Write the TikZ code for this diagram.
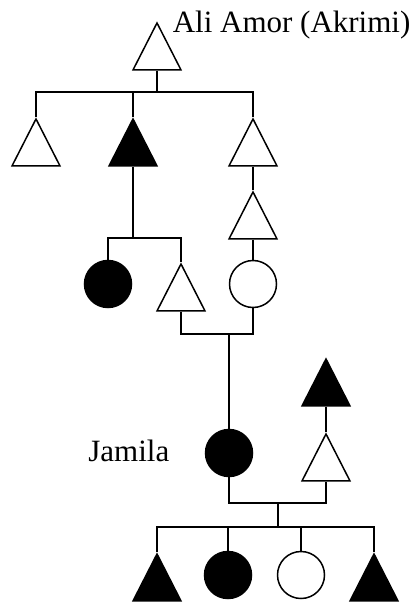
\documentclass[tikz,border=0pt]{standalone}
\usepackage{fontspec}
\setmainfont{Liberation Serif}
\usetikzlibrary{shapes.geometric}
\tikzset{
  man/.style={draw,isosceles triangle,shape border rotate=90,isosceles triangle stretches,
    minimum width=48bp,minimum height=47bp,inner sep=0pt,anchor=apex},
  woman/.style={draw,circle,minimum size=47bp,inner sep=0pt},
  ill/.style={fill=black},
  persname/.style={font=\fontsize{31bp}{37bp}\selectfont,inner sep=0pt,anchor=base west}
}
\begin{document}
\begin{tikzpicture}[x=1bp,y=-1bp,line width=1.5bp]
  \useasboundingbox (0,0) rectangle (417,602);
  % first generation
  \node[man] (ali) at (157,21) {};
  \node[persname] (aliname) at (172,33) {Ali Amor (Akrimi)};
  \coordinate (j1) at (157,92);
  \node[man] (s1) at (36,117) {};
  \node[man,ill] (s2) at (133,117) {};
  \node[man] (s3) at (253,117) {};
  \draw (ali.lower side) -- (j1);
  \draw (s1.apex) -- (s1.apex |- j1) -- (s3.apex |- j1) -- (s3.apex);
  \draw (s2.apex) -- (s2.apex |- j1);
  % second line
  \node[man] (s4) at (253,190) {};
  \node[woman] (c1) at (253,284) {};
  \draw (s3.lower side) -- (s4.apex);
  \draw (s4.lower side) -- (c1);
  \coordinate (j2) at (133,238);
  \node[woman,ill] (d1) at (108,284) {};
  \node[man] (d2) at (181,262) {};
  \draw (s2.lower side) -- (j2);
  \draw (d1) -- (d1 |- j2) -- (d2.apex |- j2) -- (d2.apex);
  % marriage
  \coordinate (m1) at (229,334);
  \node[woman,ill] (jam) at (229,453) {};
  \node[persname,anchor=base east] (jamname) at (170,461) {Jamila};
  \draw (d2.lower side) -- (d2.lower side |- m1) -- (c1.south |- m1) -- (c1);
  \draw (m1) -- (jam);
  % husband side
  \node[man,ill] (f1) at (326,357) {};
  \node[man] (f2) at (326,432) {};
  \draw (f1.lower side) -- (f2.apex);
  \coordinate (m2) at (278,503);
  \coordinate (j3) at (278,527);
  \draw (jam) -- (jam |- m2) -- (f2.lower side |- m2) -- (f2.lower side);
  \draw (m2) -- (j3);
  % children
  \node[man,ill] (k1) at (157,552) {};
  \node[woman,ill] (k2) at (228,575) {};
  \node[woman] (k3) at (301,575) {};
  \node[man,ill] (k4) at (374,552) {};
  \draw (k1.apex) -- (k1.apex |- j3) -- (k4.apex |- j3) -- (k4.apex);
  \draw (k2) -- (k2 |- j3);
  \draw (k3) -- (k3 |- j3);
\end{tikzpicture}
\end{document}
